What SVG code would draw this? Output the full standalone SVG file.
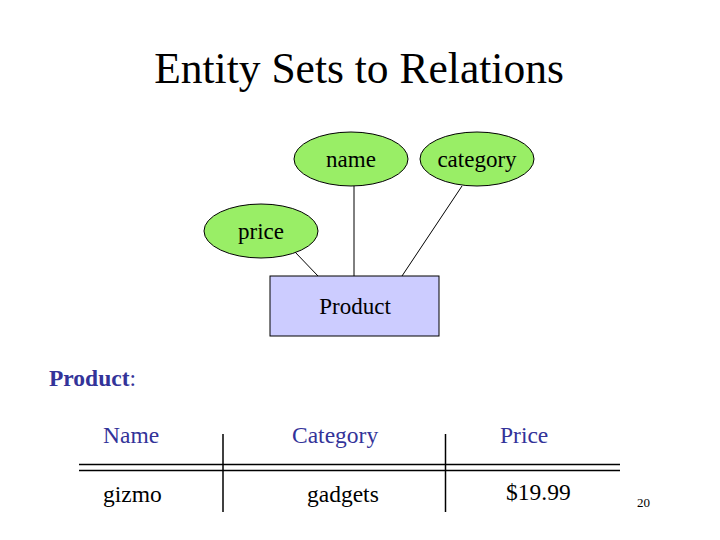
<svg xmlns="http://www.w3.org/2000/svg" width="720" height="540" viewBox="0 0 720 540">
<style>
text{font-family:"Liberation Serif","Times New Roman",serif;fill:#000}
.attr{fill:#99ee66;stroke:#000;stroke-width:1}
.ent{fill:#ccccff;stroke:#000;stroke-width:1}
.lbl{font-size:23px;text-anchor:middle}
.conn line{stroke:#000;stroke-width:1}
.tbl line{stroke:#000;stroke-width:1.5}
.hdr{font-size:23.5px;fill:#333399}
.cell{font-size:23.5px}
</style>
<rect width="720" height="540" fill="#fff"/>
<text x="359" y="83" font-size="43.5" text-anchor="middle">Entity Sets to Relations</text>
<g id="connectors" class="conn">
<line x1="354" y1="186" x2="354" y2="276"/>
<line x1="462" y1="186" x2="402" y2="276"/>
<line x1="295" y1="252" x2="318" y2="276"/>
</g>
<g id="name">
<ellipse class="attr" cx="351" cy="159" rx="57" ry="27"/>
<text class="lbl" x="351" y="167">name</text>
</g>
<g id="category">
<ellipse class="attr" cx="477" cy="159" rx="57" ry="27"/>
<text class="lbl" x="477" y="167">category</text>
</g>
<g id="price">
<ellipse class="attr" cx="261" cy="231" rx="57" ry="27"/>
<text class="lbl" x="261" y="239">price</text>
</g>
<g id="product">
<rect class="ent" x="270" y="276" width="169" height="60"/>
<text class="lbl" x="355" y="314">Product</text>
</g>
<g id="table">
<text x="49" y="386" font-size="23.5" fill="#333399"><tspan font-weight="bold" fill="#333399">Product</tspan><tspan fill="#333399">:</tspan></text>
<text class="hdr" x="103" y="443">Name</text>
<text class="hdr" x="292" y="443">Category</text>
<text class="hdr" x="500" y="443">Price</text>
<text class="cell" x="103" y="502">gizmo</text>
<text class="cell" x="307" y="502">gadgets</text>
<text class="cell" x="506" y="500">$19.99</text>
<g class="tbl">
<line x1="79" y1="464.5" x2="620" y2="464.5"/>
<line x1="79" y1="470.5" x2="620" y2="470.5"/>
<line x1="223" y1="434" x2="223" y2="512"/>
<line x1="445.5" y1="434" x2="445.5" y2="512"/>
</g>
</g>
<text x="637" y="507" font-size="13">20</text>
</svg>
